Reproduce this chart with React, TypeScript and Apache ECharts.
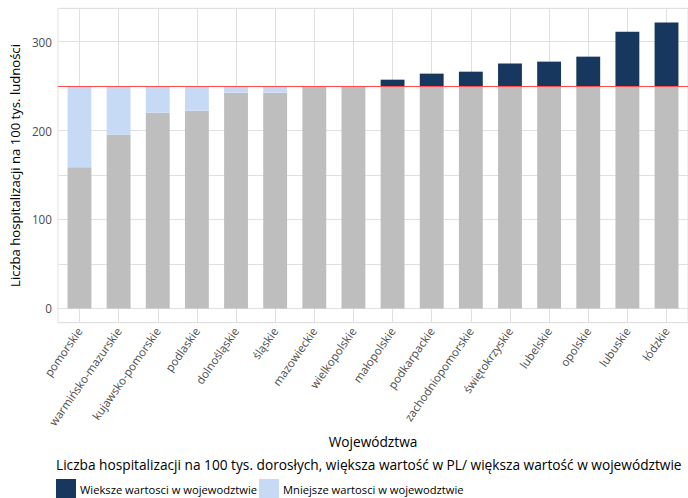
import React, { useEffect, useRef } from "react";
import * as echarts from "echarts";

const categories = [
  "pomorskie",
  "warmińsko-mazurskie",
  "kujawsko-pomorskie",
  "podlaskie",
  "dolnośląskie",
  "śląskie",
  "mazowieckie",
  "wielkopolskie",
  "małopolskie",
  "podkarpackie",
  "zachodniopomorskie",
  "świętokrzyskie",
  "lubelskie",
  "opolskie",
  "lubuskie",
  "łódzkie",
];
const values = [
  158.6, 195.4, 220.1, 222.4, 242.6, 242.6, 249.3, 249.6, 257.2, 264.0, 266.2,
  275.3, 277.5, 283.1, 311.2, 321.4,
];
const plValue = 250;
const legendTitle =
  "Liczba hospitalizacji na 100 tys. dorosłych, większa wartość w PL/ większa wartość w województwie";
const nameHigher = "Wieksze wartosci w wojewodztwie";
const nameLower = "Mniejsze wartosci w wojewodztwie";

const FONT = "Open Sans";
const GRID_COLOR = "#e0e0e0";

export default function App() {
  const ref = useRef<HTMLDivElement>(null);

  useEffect(() => {
    if (!ref.current) return;
    const chart = echarts.init(ref.current, null, { renderer: "svg" });

    const base = values.map((v) => Math.min(v, plValue));
    const higher = values.map((v) => (v > plValue ? v - plValue : 0));
    const lower = values.map((v) => (v < plValue ? plValue - v : 0));
    const dataMax = Math.max(plValue, ...values);
    const pad = dataMax * 0.05;
    const yMin = -pad;
    const yMax = dataMax + pad;

    const plotLeft = 56;
    const plotTop = 8.3;
    const plotWidth = 634;
    const plotHeight = 314.4;
    const band = plotWidth / (categories.length + 0.2);

    chart.setOption({
      animation: false,
      textStyle: { fontFamily: FONT },
      title: {
        text: legendTitle,
        left: 56,
        top: 457,
        padding: 0,
        textStyle: {
          fontFamily: FONT,
          fontSize: 13.7,
          fontWeight: "normal",
          color: "#000",
        },
      },
      legend: {
        data: [nameHigher, nameLower],
        left: 56,
        top: 479,
        padding: 0,
        itemWidth: 20,
        itemHeight: 20,
        itemGap: 2,
        icon: "rect",
        textStyle: {
          fontFamily: FONT,
          fontSize: 11.2,
          color: "#000",
          padding: [0, 0, 8, -1],
        },
        selectedMode: false,
      },
      grid: [
        {
          left: plotLeft,
          top: plotTop,
          width: plotWidth,
          height: plotHeight,
          show: true,
          borderColor: GRID_COLOR,
          borderWidth: 1,
          containLabel: false,
        },
        {
          left: plotLeft + band * 0.1,
          top: plotTop,
          width: band * categories.length,
          height: plotHeight,
          containLabel: false,
        },
      ],
      xAxis: [
        {
          type: "value",
          gridIndex: 0,
          min: 0,
          max: 1,
          show: false,
        },
        {
          type: "category",
          gridIndex: 1,
          data: categories,
          axisLine: { show: false },
          axisTick: { show: false },
          axisLabel: {
            interval: 0,
            rotate: 55,
            fontSize: 11.4,
            color: "#4d4d4d",
            fontFamily: FONT,
            margin: 6,
          },
          splitLine: {
            show: true,
            alignWithLabel: true,
            lineStyle: { color: GRID_COLOR, width: 1 },
          },
          name: "Województwa",
          nameLocation: "middle",
          nameGap: 106,
          nameTextStyle: { fontSize: 13.7, color: "#000", fontFamily: FONT },
        },
      ],
      yAxis: [
        {
          type: "value",
          gridIndex: 0,
          min: yMin,
          max: yMax,
          splitNumber: 7,
          minInterval: 50,
          maxInterval: 50,
          axisLine: { show: false },
          axisTick: { show: false },
          axisLabel: {
            fontSize: 11.7,
            color: "#4d4d4d",
            fontFamily: FONT,
            margin: 6,
            showMinLabel: false,
            showMaxLabel: false,
            formatter: (v: number) =>
              Math.abs(v % 100) < 1e-6 ? String(Math.round(v)) : "",
          },
          splitLine: { show: true, lineStyle: { color: GRID_COLOR, width: 1 } },
          name: "Liczba hospitalizacji na 100 tys. ludności",
          nameLocation: "middle",
          nameGap: 21,
          nameTextStyle: { fontSize: 13.1, color: "#000", fontFamily: FONT },
        },
        {
          type: "value",
          gridIndex: 1,
          min: yMin,
          max: yMax,
          show: false,
          splitLine: { show: false },
        },
      ],
      series: [
        {
          name: "Wartość",
          type: "bar",
          stack: "v",
          xAxisIndex: 1,
          yAxisIndex: 1,
          data: base,
          barWidth: "61%",
          itemStyle: { color: "#bebebe" },
        },
        {
          name: nameHigher,
          type: "bar",
          stack: "v",
          xAxisIndex: 1,
          yAxisIndex: 1,
          data: higher,
          barWidth: "61%",
          itemStyle: { color: "#17375e" },
        },
        {
          name: nameLower,
          type: "bar",
          stack: "v",
          xAxisIndex: 1,
          yAxisIndex: 1,
          data: lower,
          barWidth: "61%",
          itemStyle: { color: "#c6d9f5" },
        },
        {
          name: "PL",
          type: "line",
          xAxisIndex: 0,
          yAxisIndex: 0,
          data: [],
          silent: true,
          markLine: {
            silent: true,
            symbol: "none",
            label: { show: false },
            lineStyle: { color: "#ff4d4d", width: 1, type: "solid" },
            data: [{ yAxis: plValue }],
          },
        },
      ],
    });

    return () => chart.dispose();
  }, []);

  return (
    <div
      ref={ref}
      style={{ position: "absolute", left: 0, top: 0, width: 688, height: 498 }}
    />
  );
}
